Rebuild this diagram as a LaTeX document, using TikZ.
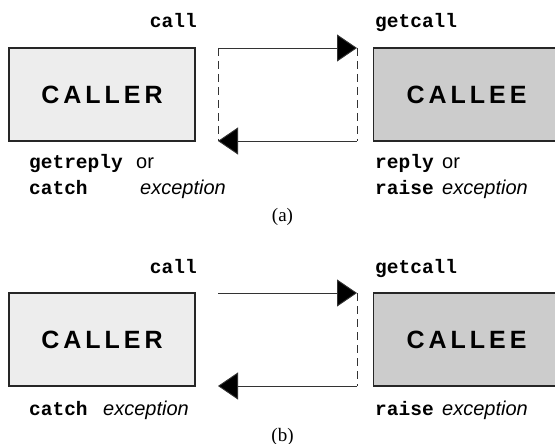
\documentclass[tikz,border=0pt]{standalone}
\usepackage{fontspec}
\setmainfont{Liberation Serif}
\setsansfont{Liberation Sans}
\setmonofont{Liberation Mono}
\newfontfamily\boxfont[LetterSpace=16]{Liberation Sans}
\usetikzlibrary{arrows.meta}
\begin{document}
\begin{tikzpicture}[x=1pt,y=-1pt,
  party/.style={draw=black!85,line width=1.1pt,minimum width=186pt,minimum height=93pt,
    inner sep=0pt,font=\boxfont\bfseries\fontsize{25}{25}\selectfont},
  caller/.style={party,fill=black!7},
  callee/.style={party,fill=black!20},
  op/.style={inner sep=0pt,font=\ttfamily\bfseries\fontsize{19.5}{20}\selectfont},
  word/.style={inner sep=0pt,font=\sffamily\fontsize{20}{20}\selectfont},
  figlabel/.style={inner sep=0pt,font=\rmfamily\fontsize{19}{19}\selectfont},
  msg/.style={draw=black!80,line width=0.9pt,-{Triangle[length=20pt,width=27pt,fill=black]}},
  link/.style={draw=black!80,line width=0.9pt,dash pattern=on 8pt off 5pt}]
\useasboundingbox (0,0) rectangle (555,444);

% ---------- (a) reply or exception ----------
\node[caller] (callerA) at (102,94.5) {CALLER};
\node[callee] (calleeA) at (466.5,94.5) {CALLEE};
\coordinate (aTL) at (218,48);
\coordinate (aTR) at (357,48);
\coordinate (aBL) at (218,141);
\coordinate (aBR) at (357,141);
\draw[msg] (aTL) -- (aTR);
\draw[msg] (aBR) -- (aBL);
\draw[link] (aTL) -- (aBL);
\draw[link] (aTR) -- (aBR);

\node[op,anchor=base east] (callA) at (197,28) {call};
\node[op,anchor=base west] (getcallA) at (375,28) {getcall};
\node[op,anchor=base west] (getreplyA) at (29,168) {getreply};
\node[word,anchor=base west] (orA1) at (136,168) {or};
\node[op,anchor=base west] (catchA) at (29,194) {catch};
\node[word,anchor=base west] (excA1) at (140,194) {\itshape exception};
\node[op,anchor=base west] (replyA) at (375,168) {reply};
\node[word,anchor=base west] (orA2) at (442,168) {or};
\node[op,anchor=base west] (raiseA) at (375,194) {raise};
\node[word,anchor=base west] (excA2) at (442,194) {\itshape exception};
\node[figlabel,anchor=base] (capA) at (282.5,221) {(a)};

% ---------- (b) exception only ----------
\node[caller] (callerB) at (102,339.5) {CALLER};
\node[callee] (calleeB) at (466.5,339.5) {CALLEE};
\coordinate (bTL) at (218,293);
\coordinate (bTR) at (357,293);
\coordinate (bBL) at (218,386);
\coordinate (bBR) at (357,386);
\draw[msg] (bTL) -- (bTR);
\draw[msg] (bBR) -- (bBL);
\draw[link] (bTR) -- (bBR);

\node[op,anchor=base east] (callB) at (197,273) {call};
\node[op,anchor=base west] (getcallB) at (375,273) {getcall};
\node[op,anchor=base west] (catchB) at (29,415) {catch};
\node[word,anchor=base west] (excB1) at (103,415) {\itshape exception};
\node[op,anchor=base west] (raiseB) at (375,415) {raise};
\node[word,anchor=base west] (excB2) at (442,415) {\itshape exception};
\node[figlabel,anchor=base] (capB) at (282.5,441) {(b)};
\end{tikzpicture}
\end{document}
